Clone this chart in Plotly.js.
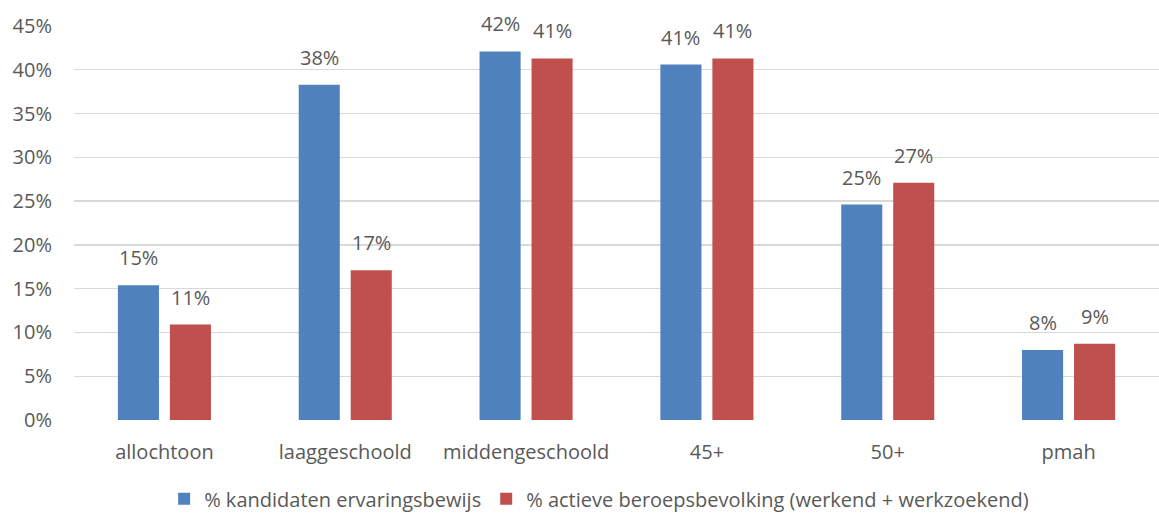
<!DOCTYPE html>
<html><head><meta charset="utf-8">
<script src="https://cdn.plot.ly/plotly-3.0.1.min.js"></script>
<style>html,body{margin:0;padding:0;background:#fff;}#chart{width:1159px;height:516px;}</style>
</head><body><div id="chart"></div>
<script>
const categories = ["allochtoon", "laaggeschoold", "middengeschoold", "45+", "50+", "pmah"];
const kandidaten = [15.4, 38.3, 42.1, 40.6, 24.6, 8.0];
const beroepsbevolking = [10.9, 17.1, 41.3, 41.3, 27.1, 8.7];
const seriesNames = ["% kandidaten ervaringsbewijs", "% actieve beroepsbevolking (werkend + werkzoekend)"];
const yTickVals = [0, 5, 10, 15, 20, 25, 30, 35, 40, 45];
const yTickText = ["0%", "5%", "10%", "15%", "20%", "25%", "30%", "35%", "40%", "45%"];

const FONT = "'Open Sans', 'DejaVu Sans', sans-serif";
const TXT = "#595959";
const colors = ["#4F81BD", "#C0504D"];

function trace(vals, name, color) {
  return {
    type: "bar", x: categories, y: vals, name: name,
    marker: {color: color},
    hoverinfo: "skip"
  };
}

const data = [
  trace(kandidaten, seriesNames[0], colors[0]),
  trace(beroepsbevolking, seriesNames[1], colors[1])
];

const annotations = [];
[kandidaten, beroepsbevolking].forEach((vals, si) => {
  vals.forEach((v, i) => {
    annotations.push({
      xref: "x", yref: "y", x: categories[i], y: v,
      text: Math.round(v) + "%", showarrow: false,
      xanchor: "center", yanchor: "bottom",
      xshift: si === 0 ? -26 : 26, yshift: 12,
      font: {family: FONT, size: 20, color: TXT}
    });
  });
});

const layout = {
  width: 1159, height: 516,
  margin: {l: 74, r: 0, t: 26, b: 96, autoexpand: false},
  paper_bgcolor: "#fff", plot_bgcolor: "#fff",
  font: {family: FONT, size: 20, color: TXT},
  barmode: "group", bargap: 0.425, bargroupgap: 0.21,
  showlegend: true,
  legend: {orientation: "h", x: 0.484, xanchor: "center", y: -0.2, yanchor: "middle",
           font: {family: FONT, size: 20, color: TXT}, traceorder: "normal",
           itemwidth: 30},
  annotations: annotations,
  xaxis: {showgrid: false, zeroline: false, showline: false, ticks: "", automargin: false,
          tickfont: {family: FONT, size: 20, color: TXT}, ticklabelstandoff: 18},
  yaxis: {range: [0, 45], tickvals: yTickVals, ticktext: yTickText, automargin: false,
          showgrid: true, gridcolor: "#D9D9D9", gridwidth: 1.3, zeroline: false,
          showline: false, ticks: "", ticklabelstandoff: 21,
          tickfont: {family: FONT, size: 20, color: TXT}}
};

Plotly.newPlot("chart", data, layout, {staticPlot: true, displayModeBar: false});
</script>
</body></html>
